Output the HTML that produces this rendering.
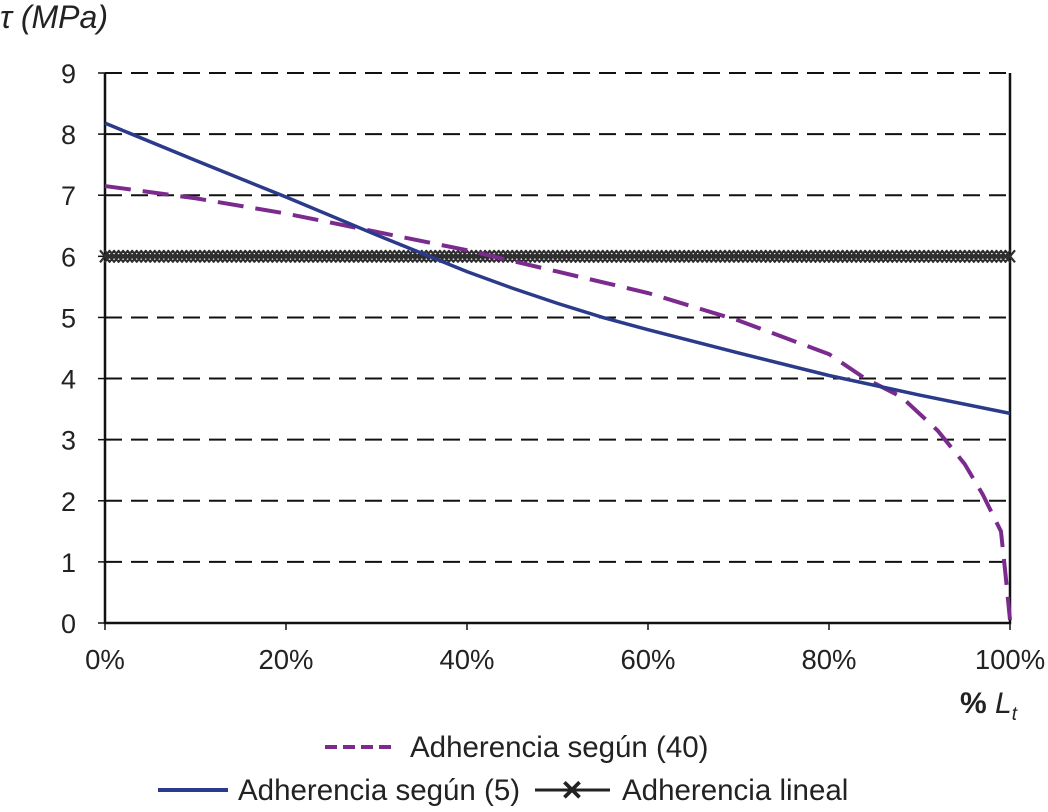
<!DOCTYPE html>
<html><head><meta charset="utf-8"><style>
body{margin:0;background:#fff;}
svg text{font-family:"Liberation Sans",sans-serif;fill:#222;}
</style></head><body>
<svg width="1048" height="807">
<g id="grid"></g>
<g id="axes"></g>
<g id="series"></g>
<text x="0" y="28" font-size="32" font-style="italic">τ (MPa)</text>
<text x="960" y="713" font-size="30"><tspan font-weight="bold">%</tspan> <tspan font-style="italic">L</tspan><tspan font-style="italic" font-size="19" dy="7">t</tspan></text>
<g>
<line x1="325" y1="747" x2="397" y2="747" stroke="#7b2a8e" stroke-width="4" stroke-dasharray="12,6"/>
<text x="410" y="757" font-size="29.5">Adherencia según (40)</text>
<line x1="158" y1="790" x2="228" y2="790" stroke="#2b3a8a" stroke-width="4"/>
<text x="238" y="800" font-size="29.5">Adherencia según (5)</text>
<line x1="535" y1="790" x2="610" y2="790" stroke="#222" stroke-width="3"/>
<text x="572" y="800" font-size="28" font-weight="bold" text-anchor="middle">✕</text>
<text x="622" y="800" font-size="29.5">Adherencia lineal</text>
</g>
</svg>
<script>
const xTicks=["0%","20%","40%","60%","80%","100%"];
const yTicks=[0,1,2,3,4,5,6,7,8,9];
const blueX=[0,10,20,30,35,40,45,50,55,60,70,80,90,100];
const blueY=[8.18,7.57,6.97,6.35,6.05,5.75,5.48,5.23,5.0,4.8,4.42,4.05,3.73,3.43];
const purpleX=[0,10,20,30,40,50,60,70,80,84,88,92,95,97,99,99.5,100];
const purpleY=[7.15,6.95,6.7,6.4,6.1,5.75,5.4,4.95,4.4,4.0,3.7,3.15,2.6,2.1,1.5,0.8,0.05];
const linealValue=6;
const NS="http://www.w3.org/2000/svg";
const X0=105,X1=1010,Y0=623,Y1=73;
const sx=v=>X0+(X1-X0)*v/100, sy=v=>Y0-(Y0-Y1)*v/9;
function mk(t,a,p){const e=document.createElementNS(NS,t);for(const k in a)e.setAttribute(k,a[k]);p.appendChild(e);return e;}
const grid=document.getElementById('grid'),axes=document.getElementById('axes'),ser=document.getElementById('series');
yTicks.forEach(v=>{
 if(v>0){const g=mk('line',{x1:X0,x2:X1,y1:sy(v),y2:sy(v),stroke:'#111','stroke-width':2,'stroke-dasharray':'17,9'},grid);
 
 }
 const t=mk('text',{x:X0-29,y:sy(v)+10,'font-size':27,'text-anchor':'end'},axes);t.textContent=v;
 
 
 mk('line',{x1:X0-7,x2:X0,y1:sy(v),y2:sy(v),stroke:'#111','stroke-width':1.5},axes);
});
xTicks.forEach((s,i)=>{const x=sx(i*20);
 const t=mk('text',{x:x,y:669,'font-size':27.5,'text-anchor':'middle'},axes);t.textContent=s;
 
 
 mk('line',{x1:x,x2:x,y1:Y0,y2:Y0+7,stroke:'#111','stroke-width':1.5},axes);
});
const fr=mk('path',{d:`M${X0},${Y1}V${Y0}H${X1}V${Y1}`,fill:'none',stroke:'#111','stroke-width':2.5},axes);


const ll=mk('line',{x1:sx(0),x2:sx(100),y1:sy(linealValue),y2:sy(linealValue),stroke:'#333','stroke-width':4},ser);


let d='';for(let v=0;v<=100;v+=0.5){const x=sx(v),y=sy(linealValue);d+=`M${x-5},${y-6}L${x+5},${y+6}M${x-5},${y+6}L${x+5},${y-6}`;}
const lm=mk('path',{d:d,stroke:'#2e2e2e','stroke-width':2.2,fill:'none'},ser);


const pp=mk('polyline',{points:purpleX.map((x,i)=>sx(x)+','+sy(purpleY[i])).join(' '),fill:'none',stroke:'#7b2a8e','stroke-width':4,'stroke-dasharray':'26,12'},ser);


const bp=mk('polyline',{points:blueX.map((x,i)=>sx(x)+','+sy(blueY[i])).join(' '),fill:'none',stroke:'#2b3a8a','stroke-width':3.5},ser);


</script>
</body></html>
